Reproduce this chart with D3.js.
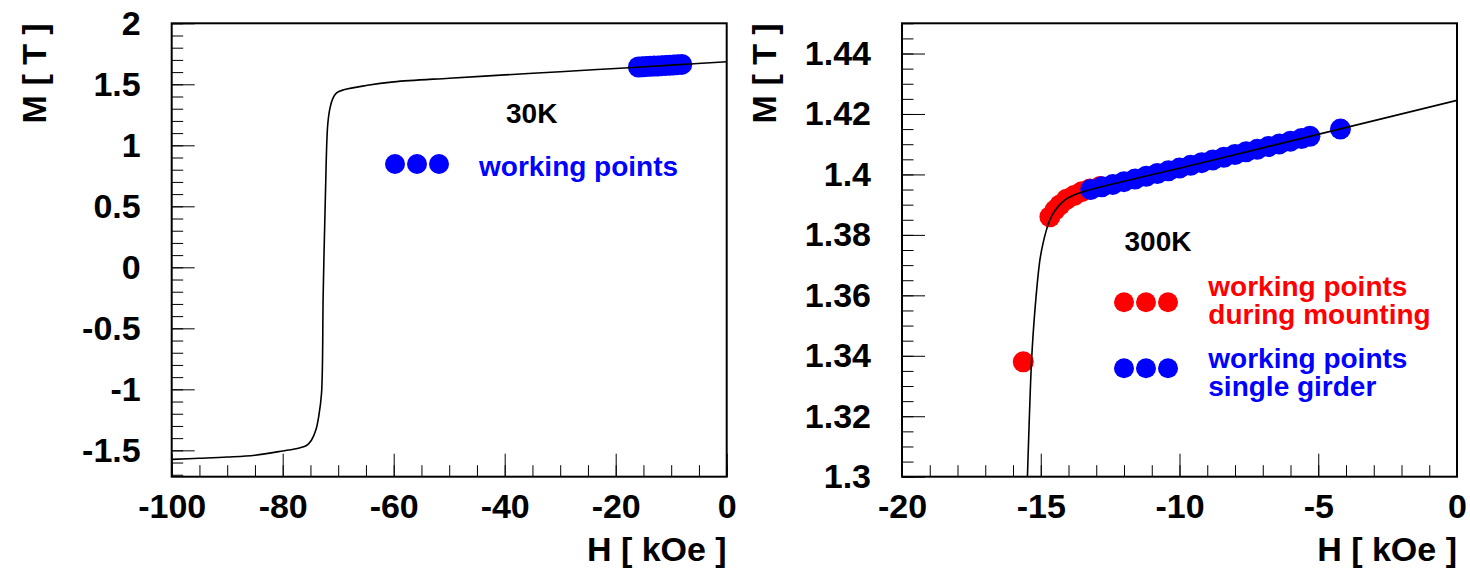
<!DOCTYPE html>
<html>
<head>
<meta charset="utf-8">
<script src="https://cdn.jsdelivr.net/npm/d3@7"></script>
<style>
  html, body { margin: 0; padding: 0; background: #fff; }
  svg text { font-family: "Liberation Sans", Arial, Helvetica, sans-serif; font-weight: bold; }
</style>
</head>
<body>
<svg id="chart" width="1470" height="569"></svg>
<script>
// ---- 30 K magnetisation curve (H in kOe, M in T) ----
const curve30H = [-100, -95, -90, -85, -80, -77, -75.7, -74.8, -74.0, -73.5, -73.0, -72.7, -72.3, -71.9, -71.5, -71.0, -70.3, -69, -65, -60, -50, -40, -30, -20, -10, 0];
const curve30M = [-1.574, -1.565, -1.555, -1.540, -1.505, -1.480, -1.460, -1.415, -1.330, -1.220, -1.030, -0.210, 0.600, 1.160, 1.300, 1.380, 1.430, 1.455, 1.490, 1.520, 1.550, 1.577, 1.603, 1.630, 1.657, 1.685];

// 30 K working points
const work30H = [-15.9, -15.2, -14.5, -13.8, -13.1, -12.4, -11.7, -11.0, -10.3, -9.6, -8.9, -8.1];
const work30M = [1.642, 1.644, 1.646, 1.648, 1.650, 1.651, 1.653, 1.655, 1.657, 1.659, 1.661, 1.663];

// ---- 300 K magnetisation curve ----
const curve300H = [-15.55, -15.48, -15.41, -15.33, -15.21, -15.03, -14.91, -14.80, -14.70, -14.60, -14.49, -14.25, -14.06, -13.80, -13.47, -9.26, 0];
const curve300M = [1.280, 1.300, 1.3198, 1.3386, 1.3551, 1.3717, 1.3775, 1.3815, 1.3843, 1.3863, 1.3880, 1.3906, 1.3920, 1.3932, 1.3943, 1.4037, 1.4245];

// 300 K working points during mounting
const mount300H = [-15.63, -14.67, -14.49, -14.31, -14.07, -13.80, -13.52, -13.23, -12.86];
const mount300M = [1.3380, 1.3860, 1.3882, 1.3899, 1.3918, 1.3930, 1.3943, 1.3952, 1.3960];

// 300 K working points, single girder
const girder300H = [-13.2, -12.8, -12.4, -12.0, -11.6, -11.2, -10.8, -10.4, -10.0, -9.6, -9.2, -8.8, -8.4, -8.0, -7.6, -7.2, -6.8, -6.4, -6.0, -5.6, -5.3, -4.2];
const girder300M = [1.3950, 1.3959, 1.3967, 1.3976, 1.3985, 1.3994, 1.4003, 1.4012, 1.4021, 1.4030, 1.4039, 1.4048, 1.4057, 1.4066, 1.4075, 1.4083, 1.4092, 1.4101, 1.4110, 1.4119, 1.4126, 1.4150];

// ---- axis ticks and labels ----
const ticks30X = [-100, -80, -60, -40, -20, 0];
const labels30X = ["-100", "-80", "-60", "-40", "-20", "0"];
const ticks30Y = [-1.5, -1, -0.5, 0, 0.5, 1, 1.5, 2];
const labels30Y = ["-1.5", "-1", "-0.5", "0", "0.5", "1", "1.5", "2"];
const ticks300X = [-20, -15, -10, -5, 0];
const labels300X = ["-20", "-15", "-10", "-5", "0"];
const ticks300Y = [1.3, 1.32, 1.34, 1.36, 1.38, 1.4, 1.42, 1.44];
const labels300Y = ["1.3", "1.32", "1.34", "1.36", "1.38", "1.4", "1.42", "1.44"];

const BLUE = "#0000ff", RED = "#ff0000";
const svg = d3.select("#chart");
const frameTop = 23.3, frameBottom = 476.7;
const FONT = 34, MAJOR = 23, MINOR = 11.5, R = 10.5;

function drawPanel(o) {
  const g = svg.append("g");
  const x = d3.scaleLinear().domain(o.xDomain).range([o.left, o.right]);
  const y = d3.scaleLinear().domain(o.yDomain).range([frameBottom, frameTop]);
  const clipId = "clip" + o.id;
  svg.append("clipPath").attr("id", clipId)
    .append("rect").attr("x", o.left).attr("y", frameTop)
    .attr("width", o.right - o.left).attr("height", frameBottom - frameTop);

  // minor ticks
  const minorX = d3.range(o.xDomain[0], o.xDomain[1] + 1e-9, o.xMinor);
  const minorY = d3.range(Math.ceil(o.yDomain[0] / o.yMinor - 1e-9) * o.yMinor, o.yDomain[1] + 1e-9, o.yMinor);
  g.append("g").attr("transform", `translate(0,${frameBottom})`)
    .call(d3.axisBottom(x).tickValues(minorX).tickSize(-MINOR).tickFormat(""))
    .call(s => s.select(".domain").remove());
  g.append("g").attr("transform", `translate(${o.left},0)`)
    .call(d3.axisLeft(y).tickValues(minorY).tickSize(-MINOR).tickFormat(""))
    .call(s => s.select(".domain").remove());

  // major ticks with labels
  const ax = g.append("g").attr("transform", `translate(0,${frameBottom})`)
    .call(d3.axisBottom(x).tickValues(o.xTicks).tickSize(-MAJOR).tickPadding(17)
      .tickFormat((d, i) => o.xLabels[i]));
  ax.select(".domain").remove();
  const ay = g.append("g").attr("transform", `translate(${o.left},0)`)
    .call(d3.axisLeft(y).tickValues(o.yTicks).tickSize(-MAJOR).tickPadding(31)
      .tickFormat((d, i) => o.yLabels[i]));
  ay.select(".domain").remove();
  g.selectAll(".tick line").attr("stroke", "#000").attr("stroke-width", 1);
  g.selectAll(".tick text").attr("font-size", FONT).attr("fill", "#000")
    .attr("font-family", "'Liberation Sans', Arial, sans-serif").attr("font-weight", "bold");

  // working points
  const pts = g.append("g").attr("clip-path", `url(#${clipId})`);
  o.points.forEach(p => {
    pts.selectAll(null).data(p.h.map((h, i) => [h, p.m[i]])).enter()
      .append("circle").attr("cx", d => x(d[0])).attr("cy", d => y(d[1]))
      .attr("r", R).attr("fill", p.color);
  });

  // magnetisation curve
  const line = d3.line().x(d => x(d[0])).y(d => y(d[1])).curve(d3.curveCatmullRom.alpha(0.5));
  g.append("path").attr("clip-path", `url(#${clipId})`)
    .datum(o.curveH.map((h, i) => [h, o.curveM[i]]))
    .attr("d", line).attr("fill", "none").attr("stroke", "#000").attr("stroke-width", 1.6);

  // frame
  g.append("rect").attr("x", o.left).attr("y", frameTop)
    .attr("width", o.right - o.left).attr("height", frameBottom - frameTop)
    .attr("fill", "none").attr("stroke", "#000").attr("stroke-width", 2);

  // axis titles
  g.append("text").attr("x", o.right).attr("y", 561).attr("text-anchor", "end")
    .attr("font-size", FONT).text("H [ kOe ]");
  g.append("text").attr("transform", `translate(${o.left - 126},${frameTop}) rotate(-90)`)
    .attr("text-anchor", "end").attr("font-size", FONT).text("M [ T ]");
  return g;
}

drawPanel({
  id: "30", left: 171.7, right: 726.7,
  xDomain: [-100, 0], yDomain: [-1.716, 2], xMinor: 5, yMinor: 0.1,
  xTicks: ticks30X, xLabels: labels30X, yTicks: ticks30Y, yLabels: labels30Y,
  curveH: curve30H, curveM: curve30M,
  points: [{ h: work30H, m: work30M, color: BLUE }]
});

drawPanel({
  id: "300", left: 902, right: 1457,
  xDomain: [-20, 0], yDomain: [1.3, 1.45], xMinor: 1, yMinor: 0.005,
  xTicks: ticks300X, xLabels: labels300X, yTicks: ticks300Y, yLabels: labels300Y,
  curveH: curve300H, curveM: curve300M,
  points: [{ h: mount300H, m: mount300M, color: RED }, { h: girder300H, m: girder300M, color: BLUE }]
});

// ---- legends ----
const leg = svg.append("g").attr("font-size", 28);
function dots(cx, cy, color) {
  [0, 1, 2].forEach(i => leg.append("circle").attr("cx", cx + i * 22).attr("cy", cy).attr("r", 10).attr("fill", color));
}
leg.append("text").attr("x", 531.7).attr("y", 123.3).attr("text-anchor", "middle").attr("fill", "#000").text("30K");
dots(395, 164, BLUE);
leg.append("text").attr("x", 479).attr("y", 176).attr("fill", BLUE).text("working points");

leg.append("text").attr("x", 1158).attr("y", 250.7).attr("text-anchor", "middle").attr("fill", "#000").text("300K");
dots(1124, 302.3, RED);
leg.append("text").attr("x", 1208.3).attr("y", 296).attr("fill", RED).text("working points");
leg.append("text").attr("x", 1208.3).attr("y", 324).attr("fill", RED).text("during mounting");
dots(1124, 368.3, BLUE);
leg.append("text").attr("x", 1208.3).attr("y", 367.5).attr("fill", BLUE).text("working points");
leg.append("text").attr("x", 1208.3).attr("y", 395.5).attr("fill", BLUE).text("single girder");
</script>
</body>
</html>
